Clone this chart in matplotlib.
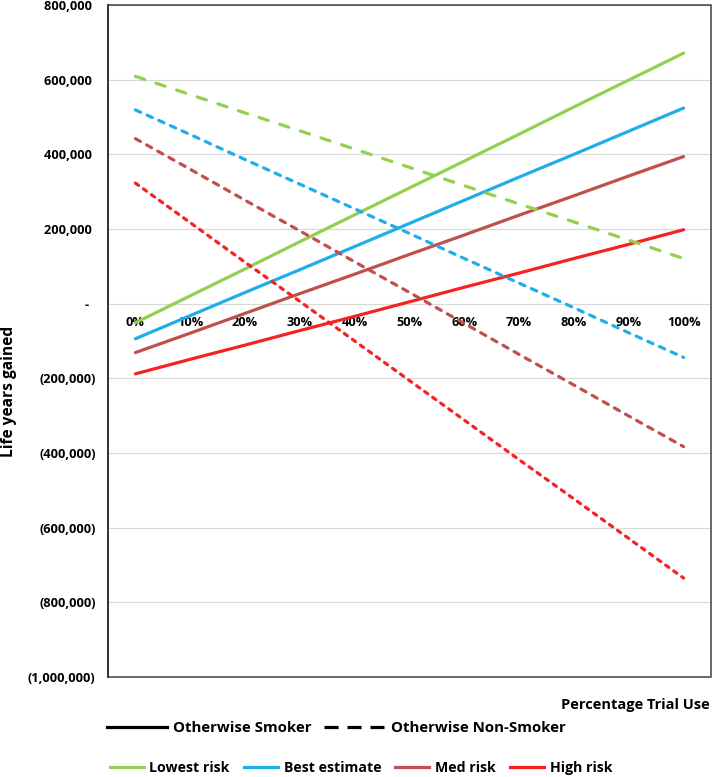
import matplotlib
matplotlib.use("Agg")
import matplotlib.pyplot as plt
from matplotlib.lines import Line2D
from matplotlib.patches import Rectangle
from matplotlib.ticker import FuncFormatter

plt.rcParams['font.family'] = ['Open Sans', 'DejaVu Sans']
plt.rcParams['font.weight'] = 'bold'

# 数据
pct_labels = ["0%", "10%", "20%", "30%", "40%", "50%", "60%", "70%", "80%", "90%", "100%"]
risk_names = ["Lowest risk", "Best estimate", "Med risk", "High risk"]
risk_colors = ["#92D050", "#1FAEE8", "#C0504D", "#F52222"]

# 吸烟者 (实线)
smoker_lowest = [-51000, 21000, 93000, 166000, 238000, 310000, 382000, 454000, 527000, 599000, 671000]
smoker_best = [-94000, -32000, 30000, 91000, 153000, 215000, 277000, 339000, 400000, 462000, 524000]
smoker_med = [-131000, -79000, -26000, 27000, 79000, 132000, 184000, 237000, 289000, 342000, 394000]
smoker_high = [-188000, -149000, -111000, -72000, -34000, 5000, 44000, 82000, 121000, 159000, 198000]

# 非吸烟者 (虚线)
nonsmoker_lowest = [609000, 560000, 511000, 463000, 414000, 365000, 316000, 267000, 219000, 170000, 121000]
nonsmoker_best = [519000, 453000, 386000, 320000, 254000, 188000, 121000, 55000, -11000, -78000, -144000]
nonsmoker_med = [442000, 360000, 277000, 195000, 112000, 30000, -53000, -136000, -218000, -301000, -383000]
nonsmoker_high = [323000, 217000, 111000, 6000, -100000, -206000, -312000, -418000, -523000, -629000, -735000]

smoker = [smoker_lowest, smoker_best, smoker_med, smoker_high]
nonsmoker = [nonsmoker_lowest, nonsmoker_best, nonsmoker_med, nonsmoker_high]
dash_styles = [(3.0, 3.8), (1.8, 2.2), (1.8, 2.2), (1.2, 1.9)]

fig = plt.figure(figsize=(7.12, 7.77), dpi=100)
ax = fig.add_axes([108 / 712, 1 - 677 / 777, 603 / 712, 672 / 777])

x = list(range(len(pct_labels)))
lw = 2.3
for vals, col in zip(smoker, risk_colors):
    ax.plot(x, vals, color=col, lw=lw, solid_capstyle='round', zorder=3)
for vals, col, ds in zip(nonsmoker, risk_colors, dash_styles):
    ax.plot(x, vals, color=col, lw=lw, linestyle=(0, ds), dash_capstyle='round', zorder=3)

ax.set_xlim(-0.5, len(pct_labels) - 0.5)
ax.set_ylim(-1000000, 800000)
ax.set_yticks(range(-1000000, 800001, 200000))
ax.yaxis.grid(True, color='#D9D9D9', lw=0.9, zorder=0)


def fmt(v, pos):
    if v == 0:
        return "-  "
    if v < 0:
        return "({:,.0f})".format(-v)
    return "{:,.0f} ".format(v)


ax.yaxis.set_major_formatter(FuncFormatter(fmt))
ax.tick_params(axis='y', length=0, pad=9, labelsize=9.2)

# x 轴标签放在零线下方
ax.spines['bottom'].set_position(('data', 0))
ax.spines['bottom'].set_visible(False)
ax.set_xticks(x)
ax.set_xticklabels(pct_labels)
ax.tick_params(axis='x', length=0, pad=9, labelsize=9.2)

for s in ['top', 'right']:
    ax.spines[s].set_visible(False)
ax.spines['left'].set_color('black')
ax.spines['left'].set_linewidth(1.3)
ax.add_patch(Rectangle((0, 0), 1, 1, transform=ax.transAxes, fill=False,
                       edgecolor='#404040', lw=1.1, zorder=4, clip_on=False))

fig.text(9 / 712, 1 - 391 / 777, "Life years gained", rotation=90,
         ha='center', va='center', fontsize=11.2, fontweight='bold')
fig.text(710 / 712, 1 - 705 / 777, "Percentage Trial Use", ha='right', va='center',
         fontsize=10.5, fontweight='bold')

# 图例
h1 = [Line2D([], [], color='black', lw=2.3),
      Line2D([], [], color='black', lw=2.3, linestyle=(0, (4.4, 2.8)))]
leg1 = fig.legend(h1, ["Otherwise Smoker", "Otherwise Non-Smoker"], loc='center',
                  bbox_to_anchor=(336 / 712, 1 - 728 / 777), ncol=2, frameon=False,
                  handlelength=4.0, handletextpad=0.45, columnspacing=0.8,
                  prop={'size': 10.8, 'weight': 'bold'})
h2 = [Line2D([], [], color=c, lw=2.3) for c in risk_colors]
leg2 = fig.legend(h2, risk_names, loc='center', bbox_to_anchor=(361 / 712, 1 - 768 / 777),
                  ncol=4, frameon=False, handlelength=2.4, handletextpad=0.4,
                  columnspacing=1.0, prop={'size': 10.2, 'weight': 'bold'})

fig.savefig("out.png", dpi=100)
